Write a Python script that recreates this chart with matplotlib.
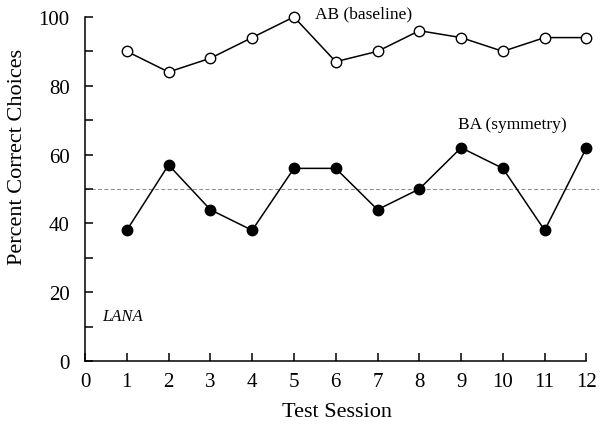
import matplotlib
matplotlib.use("Agg")
import matplotlib.pyplot as plt

sessions = [1, 2, 3, 4, 5, 6, 7, 8, 9, 10, 11, 12]
ab_baseline = [90, 84, 88, 94, 100, 87, 90, 96, 94, 90, 94, 94]
ba_symmetry = [38, 57, 44, 38, 56, 56, 44, 50, 62, 56, 38, 62]
chance = 50

plt.rcParams['font.family'] = ['Liberation Serif', 'DejaVu Serif']

fig = plt.figure(figsize=(6.04, 4.27), dpi=100)
ax = fig.add_axes([0.1407, 0.152, 0.851, 0.806])

# chance level
ax.axhline(chance, color='#888888', linestyle=(0, (4, 2.5)), linewidth=0.7, zorder=1)

ax.plot(sessions, ab_baseline, color='black', linewidth=1.1, marker='o',
        markersize=7.5, markerfacecolor='white', markeredgecolor='black',
        markeredgewidth=1.0, zorder=3, clip_on=False)
ax.plot(sessions, ba_symmetry, color='black', linewidth=1.1, marker='o',
        markersize=7.5, markerfacecolor='black', markeredgecolor='black',
        zorder=3, clip_on=False)

ax.text(6.67, 101, 'AB (baseline)', ha='center', va='center', fontsize=12.5)
ax.text(10.23, 69, 'BA (symmetry)', ha='center', va='center', fontsize=12.5)
ax.text(0.9, 13, 'LANA', ha='center', va='center', fontsize=12, style='italic')

ax.set_xlim(0, 12.3)
ax.set_ylim(0, 100)
ax.set_xticks(range(0, 13))
ax.set_yticks(range(0, 101, 10))
ax.set_yticklabels([str(v) if v % 20 == 0 else '' for v in range(0, 101, 10)])

ax.spines['top'].set_visible(False)
ax.spines['right'].set_visible(False)
ax.spines['bottom'].set_bounds(0, 12)
for s in ['left', 'bottom']:
    ax.spines[s].set_linewidth(1.1)

ax.tick_params(direction='in', length=6, width=1.1, labelsize=15)
ax.tick_params(axis='x', pad=8)
ax.tick_params(axis='y', pad=11)

ax.set_xlabel('Test Session', fontsize=16)
ax.set_ylabel('Percent Correct Choices', fontsize=16)
ax.xaxis.set_label_coords(0.49, -0.12)
ax.yaxis.set_label_coords(-0.113, 0.596)

fig.savefig('out.png', dpi=100)
